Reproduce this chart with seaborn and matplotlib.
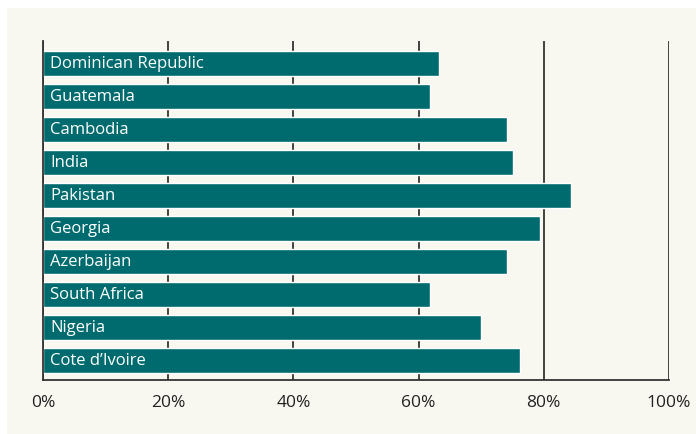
import numpy as np
import pandas as pd
from matplotlib import pyplot as plt
import matplotlib.patches as mpatches
import seaborn as sns

countries = ["Dominican Republic", "Guatemala", "Cambodia", "India", "Pakistan",
             "Georgia", "Azerbaijan", "South Africa", "Nigeria", "Cote d\u2019Ivoire"]
shares = [63.2, 61.9, 74.1, 75.0, 84.3, 79.4, 74.1, 61.9, 69.9, 76.2]
xticks = [0, 20, 40, 60, 80, 100]
xtick_labels = ["0%", "20%", "40%", "60%", "80%", "100%"]

BG = "#f8f7f0"
BAR = "#006b6e"
LINE = "#333333"

sns.set_theme(style="white")
plt.rcParams["font.family"] = ["Open Sans", "DejaVu Sans"]

df = pd.DataFrame({"country": countries, "share": shares})

fig = plt.figure(figsize=(6.96, 4.34), dpi=100, facecolor="white")
# cream panel behind the chart
fig.patches.append(mpatches.Rectangle((7 / 696, 0), 1, 1 - 8 / 434,
                                      transform=fig.transFigure,
                                      facecolor=BG, edgecolor="none", zorder=-5))
ax = fig.add_axes([43 / 696, 1 - 380 / 434, (669 - 43) / 696, (380 - 41) / 434])
ax.set_facecolor(BG)

sns.barplot(data=df, y="country", x="share", orient="h", color=BAR,
            saturation=1, width=0.76, ax=ax, zorder=2)

for i, name in enumerate(countries):
    ax.text(1.1, i + 0.02, name, color="white", va="center", ha="left",
            fontsize=12, zorder=3)

ax.set_xlim(0, 100)
ax.set_ylim(9.59, -0.68)
ax.set_xticks(xticks)
ax.set_xticklabels(xtick_labels, fontsize=12.5, color="#222222")
ax.set_yticks([])
ax.set_xlabel("")
ax.set_ylabel("")
ax.tick_params(axis="x", length=0, pad=11)

ax.grid(axis="x", color=LINE, lw=1.3)
ax.set_axisbelow(True)
for s in ["top", "right"]:
    ax.spines[s].set_visible(False)
for s in ["left", "bottom"]:
    ax.spines[s].set_color(LINE)
    ax.spines[s].set_linewidth(1.3)

plt.savefig("out.png", dpi=100, facecolor="white")
